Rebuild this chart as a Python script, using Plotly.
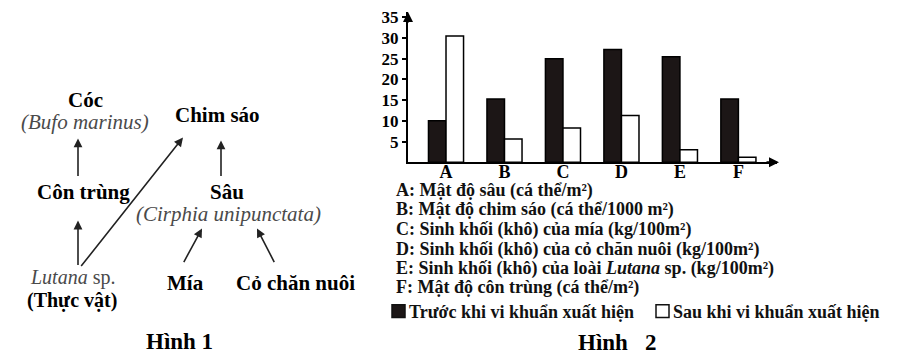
import plotly.graph_objects as go

# Page is 897x363; the HTML body adds an 8px margin, so the figure is 889x355
PAGE_OFF = 8
FW, FH = 889, 355

categories = ["A", "B", "C", "D", "E", "F"]
before_values = [10, 15.3, 25, 27.2, 25.5, 15.3]
after_values = [30.5, 5.6, 8.3, 11.3, 3.0, 1.2]
series_names = ["Trước khi vi khuẩn xuất hiện", "Sau khi vi khuẩn xuất hiện"]
series_colors = ["#1c1616", "#ffffff"]
y_tick_values = [5, 10, 15, 20, 25, 30, 35]
y_tick_labels = ["5", "10", "15", "20", "25", "30", "35"]
category_notes = [
    "A: Mật độ sâu (cá thể/m²)",
    "B: Mật độ chim sáo (cá thể/1000 m²)",
    "C: Sinh khối (khô) của mía (kg/100m²)",
    "D: Sinh khối (khô) của cỏ chăn nuôi (kg/100m²)",
    "E: Sinh khối (khô) của loài <i>Lutana</i> sp. (kg/100m²)",
    "F: Mật độ côn trùng (cá thể/m²)",
]

SERIF = "Liberation Serif, Times New Roman, serif"


def fx(x):
    return (x - PAGE_OFF) / FW


def fy(y):
    return 1 - (y - PAGE_OFF) / FH


fig = go.Figure()
for name, vals, col in zip(series_names, [before_values, after_values], series_colors):
    fig.add_trace(go.Bar(
        x=categories, y=vals, name=name, showlegend=False,
        marker=dict(color=col, line=dict(color="#000", width=1.5)),
    ))

annotations = []
shapes = []

# ---- Food web diagram (Hình 1) ----
def label(x, y, text, size=21, bold=True, italic=False, color="#000", anchor="center"):
    annotations.append(dict(
        x=fx(x), y=fy(y), xref="paper", yref="paper", text=text,
        showarrow=False, xanchor=anchor, yanchor="middle",
        font=dict(family=SERIF, size=size, color=color,
                  weight="bold" if bold else "normal",
                  style="italic" if italic else "normal"),
    ))

label(85, 97, "Cóc")
label(85, 119, "(Bufo marinus)", bold=False, italic=True, color="#4a4a4a")
label(217, 112, "Chim sáo")
label(83, 190, "Côn trùng")
label(227, 190, "Sâu")
label(228, 212, "(Cirphia unipunctata)", bold=False, italic=True, color="#4a4a4a")
label(72, 277, "<i>Lutana</i> sp.", size=20, bold=False, color="#4a4a4a")
label(72, 300, "(Thực vật)", size=20)
label(185, 282, "Mía")
label(295, 282, "Cỏ chăn nuôi")
label(179, 341, "Hình 1", size=23)


def arrow(x0, y0, x1, y1):
    annotations.append(dict(
        x=fx(x1), y=fy(y1), xref="paper", yref="paper",
        ax=x0 - x1, ay=y0 - y1, axref="pixel", ayref="pixel",
        text="", showarrow=True, arrowhead=2, arrowsize=1.1,
        arrowwidth=1.6, arrowcolor="#222",
    ))

arrow(78, 175, 78, 136)
arrow(221, 175, 221, 138)
arrow(78, 265, 78, 219)
arrow(80, 265, 183, 135)
arrow(183, 262, 202, 227)
arrow(275, 262, 257, 227)

# ---- Bar chart notes (Hình 2) ----
note_y = [189, 208, 228, 248, 267, 287]
for txt, yy in zip(category_notes, note_y):
    label(394, yy, txt, size=18, color="#111", anchor="left")
label(617, 342, "Hình   2", size=23)

# legend (swatches + labels)
legend_x = [392, 656]
for lx, name, col in zip(legend_x, series_names, series_colors):
    shapes.append(dict(
        type="rect", xref="paper", yref="paper",
        x0=fx(lx), x1=fx(lx + 13), y0=fy(317), y1=fy(304),
        fillcolor=col, line=dict(color="#111", width=1.5),
    ))
    label(lx + 15, 311, name, size=18, color="#111", anchor="left")

# axis arrowheads
annotations.append(dict(
    x=fx(779), y=fy(160), xref="paper", yref="paper", ax=-14, ay=0,
    text="", showarrow=True, arrowhead=2, arrowsize=1, arrowwidth=2, arrowcolor="#000",
))
annotations.append(dict(
    x=fx(408), y=1, xref="paper", yref="paper", ax=0, ay=12,
    text="", showarrow=True, arrowhead=2, arrowsize=1, arrowwidth=2, arrowcolor="#000",
))

fig.update_layout(
    width=FW, height=FH, margin=dict(l=0, r=0, t=0, b=0),
    paper_bgcolor="white", plot_bgcolor="white",
    barmode="group", bargap=0.4, bargroupgap=0,
    font=dict(family=SERIF, color="#000"),
    annotations=annotations, shapes=shapes,
    showlegend=False,
    xaxis=dict(
        domain=[fx(408), fx(777)], range=[-0.65, 5.66], type="category",
        showline=True, linecolor="#000", linewidth=2, ticks="", showgrid=False,
        tickfont=dict(family=SERIF, size=18, weight="bold"), zeroline=False,
        ticklabelstandoff=-8,
    ),
    yaxis=dict(
        domain=[fy(160), 1], range=[0, (160 - PAGE_OFF) / 4.19],
        tickvals=y_tick_values, ticktext=y_tick_labels,
        showline=True, linecolor="#000", linewidth=2, ticks="outside", ticklen=4,
        tickwidth=1.5, tickcolor="#000", showgrid=False, zeroline=False,
        tickfont=dict(family=SERIF, size=17, weight="bold"),
        ticklabeloverflow="allow",
    ),
)

fig.write_html("out.html")
